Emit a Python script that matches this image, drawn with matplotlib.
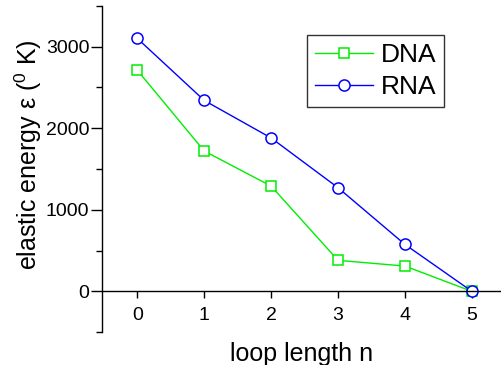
import matplotlib
matplotlib.use("Agg")
import matplotlib.pyplot as plt
from matplotlib.ticker import MultipleLocator

plt.rcParams['font.family'] = ['Liberation Sans', 'DejaVu Sans']
plt.rcParams['mathtext.fontset'] = 'custom'
plt.rcParams['mathtext.rm'] = 'Liberation Sans'
plt.rcParams['mathtext.it'] = 'Liberation Sans'

loop_length = [0, 1, 2, 3, 4, 5]
dna_energy = [2710, 1720, 1290, 380, 310, 0]
rna_energy = [3100, 2340, 1880, 1270, 575, 0]
x_ticks = [0, 1, 2, 3, 4, 5]
y_ticks = [0, 1000, 2000, 3000]

fig = plt.figure(figsize=(5.02, 3.65), dpi=100)
ax = fig.add_axes([0.203, 0.090, 0.797, 0.894])

ax.plot(loop_length, dna_energy, color='#00ee00', lw=1.0, marker='s',
        markersize=7.2, markerfacecolor='white', markeredgecolor='#00ee00',
        markeredgewidth=1.1, label='DNA')
ax.plot(loop_length, rna_energy, color='#0000ff', lw=1.0, marker='o',
        markersize=8, markerfacecolor='white', markeredgecolor='#0000ff',
        markeredgewidth=1.1, label='RNA')

ax.set_xlim(-0.53, 5.45)
ax.set_ylim(-500, 3500)
ax.set_xticks(x_ticks)
ax.set_yticks(y_ticks)
ax.yaxis.set_minor_locator(MultipleLocator(500))

ax.spines['top'].set_visible(False)
ax.spines['right'].set_visible(False)
ax.spines['bottom'].set_position(('data', 0))
ax.spines['left'].set_linewidth(1.0)
ax.spines['bottom'].set_linewidth(1.0)

ax.tick_params(axis='y', which='major', direction='out', length=8,
               width=1.0, labelsize=14, pad=1)
ax.tick_params(axis='y', which='minor', direction='out', length=4, width=1.0)
ax.tick_params(axis='x', which='major', direction='out', length=5,
               width=1.0, labelsize=14, pad=6)

ax.set_xlabel('loop length n', fontsize=18)
ax.xaxis.set_label_coords(0.5, -0.03)
ax.set_ylabel(r'elastic energy $\mathregular{\epsilon}$ ($\mathregular{^0}$ K)',
              fontsize=18)
ax.yaxis.set_label_coords(-0.145, 0.543)

leg = ax.legend(loc='upper left', bbox_to_anchor=(0.512, 0.91), fontsize=19,
                frameon=True, fancybox=False, edgecolor='black',
                handlelength=2.2, handletextpad=0.3, borderpad=0.3,
                labelspacing=0.3, borderaxespad=0)
leg.get_frame().set_linewidth(1.0)

fig.savefig('out.png', dpi=100)
